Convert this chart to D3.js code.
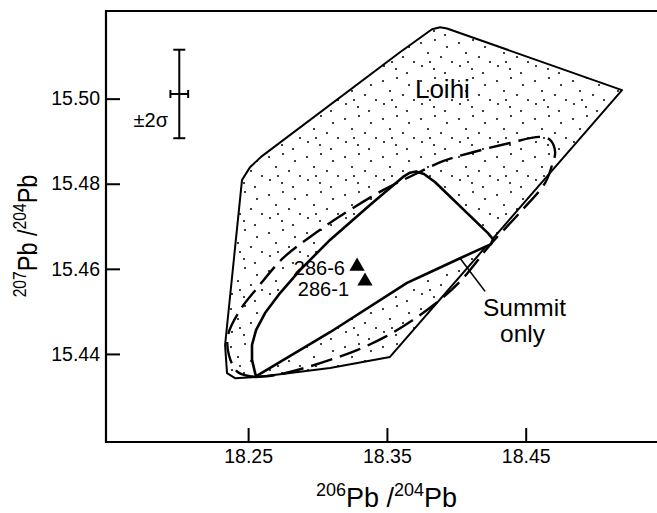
<!DOCTYPE html>
<html>
<head>
<meta charset="utf-8">
<script src="https://cdn.jsdelivr.net/npm/d3@7"></script>
<style>
body { margin: 0; background: #fff; }
svg text { font-family: "Liberation Sans", Arial, Helvetica, sans-serif; fill: #000; }
.axis path.domain { display: none; }
.axis line { stroke: #000; stroke-width: 2px; }
</style>
</head>
<body>
<svg id="chart" width="657" height="513"></svg>
<script>
// tick values
var xTicks = [18.25, 18.35, 18.45];
var yTicks = [15.44, 15.46, 15.48, 15.50];

// Loihi field (stippled, solid outline)
var loihiX = [18.3594, 18.3825, 18.3883, 18.3933, 18.5194, 18.3522, 18.3090, 18.2571, 18.2406, 18.2348, 18.2334, 18.2456, 18.2514, 18.2600];
var loihiY = [15.5109, 15.5163, 15.5168, 15.5165, 15.5020, 15.4393, 15.4367, 15.4346, 15.4343, 15.4355, 15.4421, 15.4809, 15.4839, 15.4865];

// inner open field (white, solid outline)
var innerX = [18.2557, 18.2528, 18.2528, 18.2557, 18.2622, 18.2730, 18.2874, 18.3090, 18.3378, 18.3616, 18.3666, 18.3710, 18.3767, 18.3846, 18.4228, 18.4264, 18.4250, 18.4027, 18.3810, 18.3645, 18.3090, 18.2571];
var innerY = [15.4346, 15.4386, 15.4421, 15.4456, 15.4496, 15.4543, 15.4597, 15.4668, 15.4750, 15.4816, 15.4826, 15.4829, 15.4823, 15.4804, 15.4684, 15.4670, 15.4658, 15.4625, 15.4592, 15.4567, 15.4451, 15.4350];

// dashed field
var dashX = [18.2559, 18.2427, 18.2362, 18.2355, 18.2442, 18.2571, 18.2751, 18.2946, 18.3198, 18.3472, 18.3688, 18.3904, 18.4120, 18.4387, 18.4603, 18.4676, 18.4712, 18.4690, 18.4640, 18.4460, 18.4243, 18.4049, 18.3883, 18.3688, 18.3487, 18.3285, 18.3090, 18.2874, 18.2694, 18.2559];
var dashY = [15.4346, 15.4357, 15.4397, 15.4444, 15.4503, 15.4557, 15.4625, 15.4675, 15.4731, 15.4785, 15.4820, 15.4853, 15.4874, 15.4896, 15.4910, 15.4903, 15.4874, 15.4844, 15.4802, 15.4733, 15.4656, 15.4578, 15.4527, 15.4480, 15.4440, 15.4409, 15.4386, 15.4364, 15.4350, 15.4346];

// samples
var sampleNames = ["286-6", "286-1"];
var sampleX = [18.3285, 18.3342];
var sampleY = [15.4606, 15.4571];

// 2 sigma error bar
var errX = 18.2004, errY = 15.5011, errDx = 0.0064, errDy = 0.0104;

var svg = d3.select("#chart"),
    margin = {top: 11, left: 106, bottom: 71, right: 0},
    width = +svg.attr("width") - margin.left - margin.right,
    height = +svg.attr("height") - margin.top - margin.bottom;

var x = d3.scaleLinear().domain([18.1476, 18.5446]).range([margin.left, margin.left + width]);
var y = d3.scaleLinear().domain([15.4193, 15.5206]).range([margin.top + height, margin.top]);

function zip(a, b) { return a.map(function(d, i) { return [d, b[i]]; }); }

// stipple pattern
var pat = svg.append("defs").append("pattern")
    .attr("id", "dots")
    .attr("patternUnits", "userSpaceOnUse")
    .attr("width", 38).attr("height", 38);
[[3,5],[17,2],[29,9],[10,15],[23,19],[34,24],[4,28],[16,31],[27,35],[12,24]].forEach(function(p) {
    pat.append("circle").attr("cx", p[0]).attr("cy", p[1]).attr("r", 1).attr("fill", "#000");
});

var lineLin = d3.line().x(function(d){return x(d[0]);}).y(function(d){return y(d[1]);}).curve(d3.curveLinearClosed);
var lineCurve = d3.line().x(function(d){return x(d[0]);}).y(function(d){return y(d[1]);}).curve(d3.curveCatmullRom.alpha(0.5));

svg.append("path")
    .attr("d", lineLin(zip(loihiX, loihiY)))
    .attr("fill", "url(#dots)")
    .attr("stroke", "#000").attr("stroke-width", 2).attr("stroke-linejoin", "round");

svg.append("path")
    .attr("d", lineLin(zip(innerX, innerY)))
    .attr("fill", "#fff")
    .attr("stroke", "#000").attr("stroke-width", 2.6).attr("stroke-linejoin", "round");

svg.append("path")
    .attr("d", lineCurve(zip(dashX, dashY)))
    .attr("fill", "none")
    .attr("stroke", "#000").attr("stroke-width", 2.4)
    .attr("stroke-dasharray", "22,8");

// axes
var xAxis = d3.axisBottom(x).tickValues(xTicks).tickSize(-14).tickPadding(7).tickFormat(d3.format(".2f"));
var yAxis = d3.axisLeft(y).tickValues(yTicks).tickSize(-14).tickPadding(6).tickFormat(d3.format(".2f"));
svg.append("g").attr("class", "axis")
    .attr("transform", `translate(0,${margin.top + height})`)
    .call(xAxis)
    .selectAll("text").attr("font-size", 19.5);
svg.append("g").attr("class", "axis")
    .attr("transform", `translate(${margin.left},0)`)
    .call(yAxis)
    .selectAll("text").attr("font-size", 19.5);

// frame (left, top, bottom)
svg.append("path")
    .attr("d", `M${margin.left + width + 5},${margin.top}H${margin.left}V${margin.top + height}H${margin.left + width + 5}`)
    .attr("fill", "none").attr("stroke", "#000").attr("stroke-width", 2.2);

// error bar
var eb = svg.append("g").attr("stroke", "#000").attr("stroke-width", 2);
eb.append("line").attr("x1", x(errX)).attr("x2", x(errX)).attr("y1", y(errY + errDy)).attr("y2", y(errY - errDy));
eb.append("line").attr("x1", x(errX) - 6).attr("x2", x(errX) + 6).attr("y1", y(errY + errDy)).attr("y2", y(errY + errDy));
eb.append("line").attr("x1", x(errX) - 6).attr("x2", x(errX) + 6).attr("y1", y(errY - errDy)).attr("y2", y(errY - errDy));
eb.append("line").attr("x1", x(errX - errDx)).attr("x2", x(errX + errDx)).attr("y1", y(errY)).attr("y2", y(errY));
eb.append("line").attr("x1", x(errX - errDx)).attr("x2", x(errX - errDx)).attr("y1", y(errY) - 4).attr("y2", y(errY) + 4);
eb.append("line").attr("x1", x(errX + errDx)).attr("x2", x(errX + errDx)).attr("y1", y(errY) - 4).attr("y2", y(errY) + 4);
svg.append("text").text("±2σ")
    .attr("x", x(18.1923)).attr("y", y(15.4933))
    .attr("text-anchor", "end").attr("font-size", 20);

// samples
svg.selectAll(".sample").data(sampleNames).enter().append("path")
    .attr("class", "sample")
    .attr("transform", function(d, i) { return `translate(${x(sampleX[i])},${y(sampleY[i])})`; })
    .attr("d", d3.symbol().type(d3.symbolTriangle).size(100))
    .attr("fill", "#000");
var labX = [18.3198, 18.3227], labY = [15.4585, 15.4536];
svg.selectAll(".slab").data(sampleNames).enter().append("text")
    .attr("class", "slab")
    .attr("x", function(d, i) { return x(labX[i]); })
    .attr("y", function(d, i) { return y(labY[i]); })
    .attr("text-anchor", "end").attr("font-size", 20)
    .text(function(d) { return d; });

// field labels
svg.append("text").text("Loihi").attr("x", x(18.3702)).attr("y", y(15.5001)).attr("font-size", 26);
svg.append("line")
    .attr("x1", x(18.4027)).attr("y1", y(15.4625))
    .attr("x2", x(18.4207)).attr("y2", y(15.4547))
    .attr("stroke", "#000").attr("stroke-width", 1.6);
svg.append("text").text("Summit").attr("x", x(18.4192)).attr("y", y(15.4490)).attr("font-size", 24.5);
svg.append("text").text("only").attr("x", x(18.4315)).attr("y", y(15.4429)).attr("font-size", 24.5);

// axis titles
var xt = svg.append("text")
    .attr("x", 386.5).attr("y", 507)
    .attr("text-anchor", "middle").attr("font-size", 27);
xt.append("tspan").attr("font-size", 18).attr("dy", -11).text("206");
xt.append("tspan").attr("dy", 11).text("Pb /");
xt.append("tspan").attr("font-size", 18).attr("dy", -11).text("204");
xt.append("tspan").attr("dy", 11).text("Pb");

var yt = svg.append("text")
    .attr("transform", "translate(37,236) rotate(-90) scale(0.87,1)")
    .attr("text-anchor", "middle").attr("font-size", 27);
yt.append("tspan").attr("font-size", 18).attr("dy", -11).text("207");
yt.append("tspan").attr("dy", 11).text("Pb /");
yt.append("tspan").attr("font-size", 18).attr("dy", -11).text("204");
yt.append("tspan").attr("dy", 11).text("Pb");
</script>
</body>
</html>
